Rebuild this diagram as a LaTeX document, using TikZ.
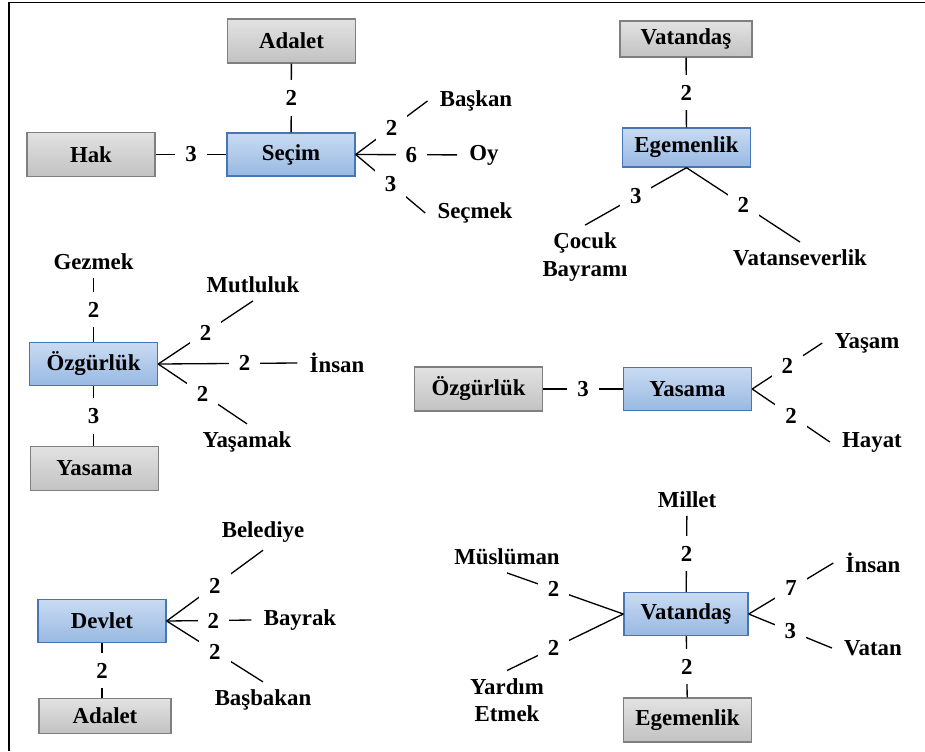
\documentclass[tikz,border=0pt]{standalone}
\usepackage{fontspec}
\setmainfont{Liberation Serif}
\usetikzlibrary{calc}
\definecolor{bleuhaut}{HTML}{C9DBF2}
\definecolor{bleubas}{HTML}{98B9E2}
\definecolor{bleutrait}{HTML}{4677B4}
\definecolor{grishaut}{HTML}{E2E2E2}
\definecolor{grisbas}{HTML}{C2C2C2}
\definecolor{gristrait}{HTML}{7F7F7F}

\begin{document}
\begin{tikzpicture}[x=0.02cm,y=-0.02cm,
  font=\fontsize{13}{15.5}\selectfont\bfseries,
  hub/.style={draw=bleutrait,line width=0.8pt,top color=bleuhaut,bottom color=bleubas,minimum width=2.56cm,minimum height=0.86cm},
  leaf/.style={draw=gristrait,line width=0.8pt,top color=grishaut,bottom color=grisbas,minimum width=2.56cm,minimum height=0.88cm},
  word/.style={inner xsep=0.24cm,inner ysep=0.15cm,align=center},
  num/.style={fill=white,inner sep=0.2cm},
  link/.style={line width=0.75pt}]
\useasboundingbox (0,0) rectangle (925,751);
%cadre
\draw[line width=1.1pt] (9,751) -- (9,2.5) -- (925,2.5);
%fin

%Seçim
\node[hub] (secim) at (291,154.5) {Seçim};
\node[leaf] (adaletA) at (291.5,41) {Adalet};
\node[leaf] (hak) at (91,154.5) {Hak};
\node[word] (baskan) at (476,101) {Başkan};
\node[word] (oy) at (484,155) {Oy};
\node[word] (secmek) at (475,213) {Seçmek};
\draw[link] (adaletA) -- node[num]{2} (secim);
\draw[link] (hak) -- node[num]{3} (secim);
\draw[link] (secim.east) -- node[num]{2} (baskan.west);
\draw[link] (secim.east) -- node[num,pos=0.55]{6} (oy);
\draw[link] (secim.east) -- node[num]{3} (secmek.west);
%fin

%Egemenlik
\node[hub,minimum height=0.78cm] (egemenA) at (686.5,147.5) {Egemenlik};
\node[leaf,minimum width=2.64cm,minimum height=0.72cm] (vatandasA) at (686,39) {Vatandaş};
\node[word] (cocuk) at (585,257) {Çocuk\\Bayramı};
\node[word] (vatansev) at (800,258) {Vatanseverlik};
\draw[link] (vatandasA) -- node[num]{2} (egemenA);
\draw[link] (egemenA.south) -- node[num]{3} (cocuk.north);
\draw[link] (egemenA.south) -- node[num]{2} (vatansev.north);
%fin

%Özgürlük
\node[hub] (ozgurA) at (93.5,364) {Özgürlük};
\node[word] (gezmek) at (93.5,262) {Gezmek};
\node[leaf] (yasamaA) at (94.5,468.5) {Yasama};
\node[word] (mutlu) at (253,285) {Mutluluk};
\node[word] (insanA) at (337,363) {İnsan};
\node[word] (yasamak) at (247,442) {Yaşamak};
\draw[link] (gezmek) -- node[num]{2} (ozgurA);
\draw[link] (ozgurA.south) -- node[num]{3} (ozgurA.south |- yasamaA.north);
\draw[link] (ozgurA.east) -- node[num]{2} (mutlu.south);
\draw[link] (ozgurA.east) -- node[num,pos=0.62]{2} (insanA.west);
\draw[link] (ozgurA.east) -- node[num]{2} (yasamak.north);
%fin

%Yasama
\node[hub] (yasamaB) at (687.5,389) {Yasama};
\node[leaf] (ozgurB) at (478.5,389) {Özgürlük};
\node[word] (yasam) at (867,343) {Yaşam};
\node[word] (hayat) at (872,442) {Hayat};
\draw[link] (ozgurB) -- node[num]{3} (yasamaB);
\draw[link] (yasamaB.east) -- node[num]{2} (yasam.west);
\draw[link] (yasamaB.east) -- node[num]{2} (hayat.west);
%fin

%Devlet
\node[hub] (devlet) at (102,621) {Devlet};
\node[leaf,minimum width=2.64cm,minimum height=0.70cm] (adaletB) at (105,716) {Adalet};
\node[word] (belediye) at (263,532) {Belediye};
\node[word] (bayrak) at (300,620) {Bayrak};
\node[word] (basbakan) at (263,700) {Başbakan};
\draw[link] (devlet.south) -- node[num]{2} (devlet.south |- adaletB.north);
\draw[link] (devlet.east) -- node[num]{2} (belediye.south);
\draw[link] (devlet.east) -- node[num,pos=0.55]{2} (bayrak.west);
\draw[link] (devlet.east) -- node[num]{2} (basbakan.north);
%fin

%Vatandaş
\node[hub,minimum width=2.48cm] (vatandasB) at (686,614) {Vatandaş};
\node[word] (millet) at (687,500) {Millet};
\node[leaf] (egemenB) at (687.5,720) {Egemenlik};
\node[word] (muslum) at (507,557) {Müslüman};
\node[word] (yardim) at (507,700) {Yardım\\Etmek};
\node[word] (insanB) at (873,563) {İnsan};
\node[word] (vatan) at (873,648) {Vatan};
\draw[link] (millet) -- node[num]{2} (vatandasB);
\draw[link] (vatandasB) -- node[num]{2} (egemenB);
\draw[link] (vatandasB.west) -- node[num,pos=0.6]{2} (muslum.south);
\draw[link] (vatandasB.west) -- node[num,pos=0.6]{2} (yardim.north);
\draw[link] (vatandasB.east) -- node[num]{7} (insanB.west);
\draw[link] (vatandasB.east) -- node[num]{3} (vatan.west);
%fin
\end{tikzpicture}
\end{document}
